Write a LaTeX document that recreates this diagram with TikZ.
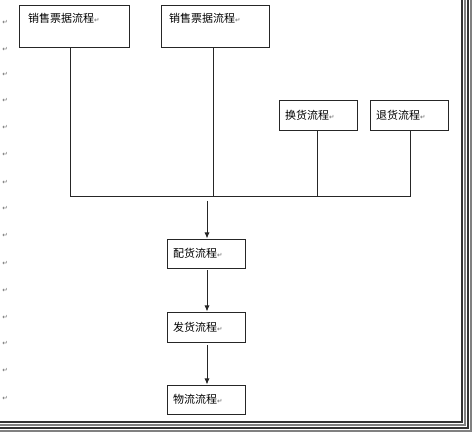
\documentclass[tikz,border=0pt]{standalone}
\usepackage{fontspec}
\newfontfamily\cjk{Noto Sans CJK SC}
\newfontfamily\djv{DejaVu Sans}
\usetikzlibrary{arrows.meta}
\newcommand{\rmark}{{\djv\fontsize{6.5}{6.5}\selectfont\color{black!60}↵}}
\begin{document}
\begin{tikzpicture}[x=1pt,y=-1pt,
  proc/.style={draw=black!85,line width=0.9pt,inner sep=0pt},
  lbl/.style={anchor=west,inner sep=0pt,font=\cjk\fontsize{11}{12}\selectfont},
  conn/.style={draw=black!85,line width=0.9pt},
  arr/.style={conn,-{Latex[length=6pt,width=5pt]}}]
\useasboundingbox (0,0) rectangle (474,435);
\fill[white] (0,0) rectangle (474,435);
% boxes
\node[proc,minimum width=110pt,minimum height=42pt] (b1) at (74,26) {};
\node[lbl] (t1) at (28,18) {销售票据流程\rmark};
\node[proc,minimum width=108pt,minimum height=42pt] (b2) at (215,26) {};
\node[lbl] (t2) at (169,18) {销售票据流程\rmark};
\node[proc,minimum width=78pt,minimum height=30pt] (b3) at (318,115) {};
\node[lbl] (t3) at (285,115) {换货流程\rmark};
\node[proc,minimum width=78pt,minimum height=30pt] (b4) at (409,115) {};
\node[lbl] (t4) at (376,115) {退货流程\rmark};
\node[proc,minimum width=78pt,minimum height=29pt] (b5) at (206,253.5) {};
\node[lbl] (t5) at (173,253.5) {配货流程\rmark};
\node[proc,minimum width=78pt,minimum height=30pt] (b6) at (206,327) {};
\node[lbl] (t6) at (173,327) {发货流程\rmark};
\node[proc,minimum width=78pt,minimum height=29pt] (b7) at (206,399.5) {};
\node[lbl] (t7) at (173,399.5) {物流流程\rmark};
% connectors
\coordinate (j1) at (70,196);
\coordinate (j4) at (410,196);
\draw[conn] (b1.south -| j1) -- (j1) -- (j4) -- (j4 |- b4.south);
\draw[conn] (b2.south -| 213,0) -- (213,196);
\draw[conn] (b3.south -| 317,0) -- (317,196);
\draw[arr] (207,201) -- (207,238.5);
\draw[arr] (b5.south -| 207,0) ++(0,2) -- (207,311.5);
\draw[arr] (b6.south -| 207,0) ++(0,3) -- (207,384.5);
% left paragraph marks
\foreach \yy in {22,49,74,100,127,154,182,208,235,263,290,317,343,370,398}
  \node[inner sep=0pt] at (5,\yy) {\rmark};
% screenshot frame shadow
\foreach \i/\c in {0/black!80,1/black!50,2/black!80,3/black!50}
  \draw[\c,line width=1.5pt] (462+3*\i,0) -- (462+3*\i,422+3*\i) -- (0,422+3*\i);
\end{tikzpicture}
\end{document}
